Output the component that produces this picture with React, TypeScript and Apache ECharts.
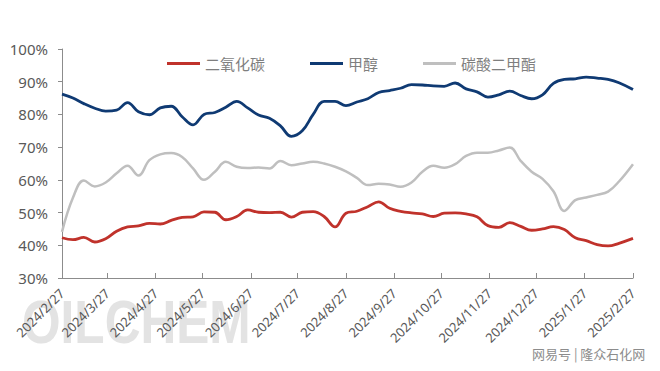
import React, { useEffect, useRef } from "react";
import * as echarts from "echarts";

const weekDates: string[] = [
  "2024-02-27", "2024-03-05", "2024-03-12", "2024-03-19", "2024-03-26",
  "2024-04-02", "2024-04-09", "2024-04-16", "2024-04-23", "2024-04-30",
  "2024-05-07", "2024-05-14", "2024-05-21", "2024-05-28",
  "2024-06-04", "2024-06-11", "2024-06-18", "2024-06-25",
  "2024-07-02", "2024-07-09", "2024-07-16", "2024-07-23", "2024-07-30",
  "2024-08-06", "2024-08-13", "2024-08-20", "2024-08-27",
  "2024-09-03", "2024-09-10", "2024-09-17", "2024-09-24",
  "2024-10-01", "2024-10-08", "2024-10-15", "2024-10-22", "2024-10-29",
  "2024-11-05", "2024-11-12", "2024-11-19", "2024-11-26",
  "2024-12-03", "2024-12-10", "2024-12-17", "2024-12-24", "2024-12-31",
  "2025-01-07", "2025-01-14", "2025-01-21", "2025-01-28",
  "2025-02-04", "2025-02-11", "2025-02-18", "2025-02-27",
];

const co2: number[] = [
  42.3, 41.7, 42.4, 41.0, 42.0, 44.3, 45.6, 45.9, 46.7, 46.5,
  47.6, 48.5, 48.7, 50.2, 50.1, 47.8, 48.8, 50.8, 50.1, 50.0,
  50.1, 48.6, 50.1, 50.3, 48.8, 45.6, 49.8, 50.4, 51.8, 53.3,
  51.3, 50.4, 49.9, 49.6, 48.8, 49.8, 49.9, 49.6, 48.7, 46.0,
  45.5, 46.9, 45.8, 44.6, 45.0, 45.7, 44.8, 42.3, 41.4, 40.2,
  39.8, 40.6, 42.1,
];

const methanol: number[] = [
  86.2, 85.0, 83.3, 81.9, 81.0, 81.3, 83.6, 80.8, 79.9, 82.0,
  82.5, 79.3, 76.8, 80.0, 80.6, 82.2, 84.0, 82.0, 79.8, 78.8,
  76.5, 73.3, 75.0, 80.0, 84.0, 84.0, 82.7, 83.8, 84.8, 86.7,
  87.3, 88.0, 89.1, 89.0, 88.7, 88.6, 89.6, 87.8, 86.9, 85.3,
  86.0, 87.1, 85.8, 84.8, 86.0, 89.5, 90.7, 90.9, 91.4, 91.1,
  90.7, 89.7, 87.6,
];

const dmc: number[] = [
  44.1, 54.5, 59.8, 58.0, 59.2, 62.0, 64.3, 61.3, 66.0, 67.8,
  68.2, 67.0, 63.5, 60.0, 62.5, 65.5, 64.0, 63.6, 63.8, 63.5,
  65.8, 64.5, 65.0, 65.5, 65.0, 64.0, 62.6, 60.6, 58.4, 58.8,
  58.6, 57.9, 59.2, 62.5, 64.3, 63.7, 64.8, 67.3, 68.3, 68.3,
  69.0, 69.9, 65.8, 62.5, 60.3, 56.5, 50.5, 53.8, 54.6, 55.4,
  56.4, 59.5, 64.8,
];

const seriesNames: string[] = ["二氧化碳", "甲醇", "碳酸二甲酯"];

const monthLabels: string[] = [
  "2024/2/27", "2024/3/27", "2024/4/27", "2024/5/27", "2024/6/27",
  "2024/7/27", "2024/8/27", "2024/9/27", "2024/10/27", "2024/11/27",
  "2024/12/27", "2025/1/27", "2025/2/27",
];

const yTicks: number[] = [30, 40, 50, 60, 70, 80, 90, 100];

const DAY = 24 * 3600 * 1000;

function toDay(s: string): number {
  const p = s.split(/[-/]/).map(Number);
  return Math.round(Date.UTC(p[0], p[1] - 1, p[2]) / DAY);
}

export default function App() {
  const ref = useRef<HTMLDivElement>(null);

  useEffect(() => {
    if (!ref.current) return;
    const chart = echarts.init(ref.current, null, { renderer: "svg" });
    const origin = toDay(monthLabels[0]);
    const tickDays = monthLabels.map((l) => toDay(l) - origin);
    const labelOf = (v: number) => {
      const i = tickDays.findIndex((t) => Math.abs(t - v) < 0.5);
      return i >= 0 ? monthLabels[i] : "";
    };
    const mk = (vals: number[]) => weekDates.map((d, i) => [toDay(d) - origin, vals[i]]);
    const colors = ["#C0322B", "#0F3A73", "#BFBFBF"];
    const font = "'Noto Sans', 'Noto Sans CJK SC', sans-serif";

    chart.setOption({
      animation: false,
      textStyle: { fontFamily: font },
      graphic: [
        {
          type: "text",
          left: 22,
          top: 290,
          z: -10,
          scaleX: 0.8,
          style: {
            text: "OILCHEM",
            fill: "#E3E3E3",
            font: "bold 62px 'Liberation Sans', Arial, sans-serif",
          },
        },
        {
          type: "text",
          left: 532,
          top: 347,
          z: 10,
          style: {
            text: "网易号 | 隆众石化网",
            fill: "#8C8C8C",
            font: "13px 'Noto Sans CJK SC', sans-serif",
          },
        },
      ],
      legend: {
        top: 51,
        left: 162,
        icon: "rect",
        itemWidth: 33,
        itemHeight: 3,
        itemGap: 45,
        textStyle: { color: "#7F7F7F", fontSize: 15, fontFamily: font },
        data: seriesNames.map((n, i) => ({ name: n, itemStyle: { color: colors[i] } })),
      },
      grid: { left: 62, right: 27, top: 49, bottom: 93 },
      xAxis: {
        type: "value",
        min: tickDays[0],
        max: tickDays[tickDays.length - 1],
        splitLine: { show: false },
        axisLine: { lineStyle: { color: "#8C8C8C", width: 1 } },
        axisTick: {
          show: true,
          inside: true,
          length: 5,
          customValues: tickDays,
          lineStyle: { color: "#8C8C8C" },
        },
        axisLabel: {
          customValues: tickDays,
          rotate: 45,
          color: "#595959",
          fontSize: 13,
          fontFamily: font,
          margin: 13,
          showMinLabel: true,
          showMaxLabel: true,
          hideOverlap: false,
          formatter: (v: number) => labelOf(v),
        },
      },
      yAxis: {
        type: "value",
        min: yTicks[0],
        max: yTicks[yTicks.length - 1],
        interval: 10,
        splitLine: { show: false },
        axisLine: { show: true, lineStyle: { color: "#8C8C8C", width: 1 } },
        axisTick: { show: true, length: 4, lineStyle: { color: "#8C8C8C" } },
        axisLabel: {
          formatter: "{value}%",
          color: "#595959",
          fontSize: 15,
          fontFamily: font,
          margin: 14,
        },
      },
      series: [co2, methanol, dmc].map((vals, i) => ({
        name: seriesNames[i],
        type: "line",
        smooth: 0.4,
        symbol: "none",
        data: mk(vals),
        itemStyle: { color: colors[i] },
        lineStyle: { color: colors[i], width: i === 2 ? 2.5 : 2.8 },
      })),
    });

    return () => chart.dispose();
  }, []);

  return (
    <div
      ref={ref}
      style={{ position: "fixed", left: 0, top: 0, width: 660, height: 371, background: "#fff" }}
    />
  );
}
